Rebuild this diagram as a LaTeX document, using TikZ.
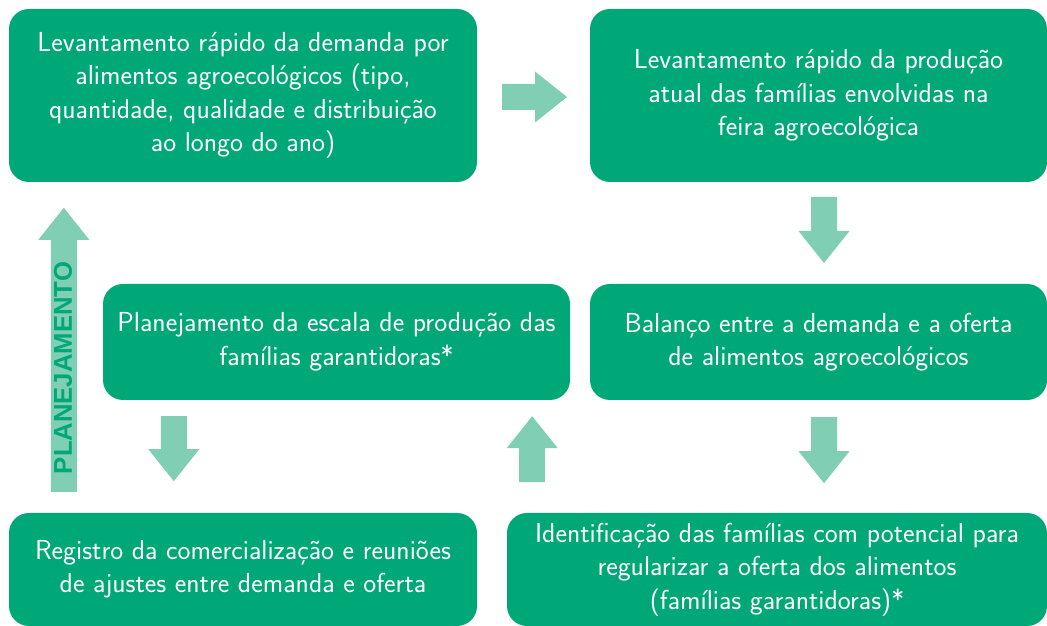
\documentclass[tikz,border=0pt]{standalone}
\usepackage{fontspec}
\usepackage{tikz}
\usetikzlibrary{calc}
\usepackage{xcolor}
\newfontfamily\rotulofont{Liberation Sans}
\definecolor{verdecaixa}{RGB}{0,168,119}
\definecolor{verdeseta}{RGB}{128,207,180}
\newcommand{\seta}[3]{\fill[verdeseta,shift={(#1)},rotate=#2] (-#3/2,-13) -- (#3/2-32,-13) -- (#3/2-32,-25.5) -- (#3/2,0) -- (#3/2-32,25.5) -- (#3/2-32,13) -- (-#3/2,13) -- cycle;}
\tikzset{caixa/.style={fill=verdecaixa,text=white,rounded corners=20pt,align=center,inner sep=0pt,font=\sffamily\fontsize{27.5}{33.5}\selectfont}}

\begin{document}
\begin{tikzpicture}[x=1pt,y=1pt]
	\useasboundingbox (0,0) rectangle (1047,626);
	
	\node[caixa,minimum width=468,minimum height=173] (A) at (243,530.5) {Levantamento rápido da demanda por\\alimentos agroecológicos (tipo,\\quantidade, qualidade e distribuição\\ao longo do ano)};
	\node[caixa,minimum width=457,minimum height=173] (B) at (818.5,530.5) {Levantamento rápido da produção\\atual das famílias envolvidas na\\feira agroecológica};
	\node[caixa,minimum width=457,minimum height=116] (C) at (818.5,284) {Balanço entre a demanda e a oferta\\de alimentos agroecológicos};
	\node[caixa,minimum width=467,minimum height=116] (D) at (336.5,284) {Planejamento da escala de produção das\\famílias garantidoras*};
	\node[caixa,minimum width=468,minimum height=113] (E) at (243,56.5) {Registro da comercialização e reuniões\\de ajustes entre demanda e oferta};
	\node[caixa,minimum width=540,minimum height=113] (F) at (777,56.5) {Identificação das famílias com potencial para\\regularizar a oferta dos alimentos\\(famílias garantidoras)*};
	
	\coordinate (ab) at ($(A.east)!0.5!(B.west)+(1,-1.5)$);
	\coordinate (bc) at ($(B.south)!0.5!(C.north)+(5.5,3)$);
	\coordinate (cf) at ($(C.south)+(5.5,-50)$);
	\coordinate (fd) at ($(D.south east)+(-38,-49)$);
	\coordinate (de) at ($(D.south west)+(71,-48.5)$);
	\coordinate (ea) at ($(E.north west)+(55,163)$);
	
	\seta{ab}{0}{65}
	\seta{bc}{-90}{66}
	\seta{cf}{-90}{66}
	\seta{fd}{90}{66}
	\seta{de}{-90}{65}
	\seta{ea}{90}{284}
	
	\node[rotate=90,text=verdecaixa,inner sep=0pt,font=\rotulofont\bfseries\fontsize{25.7}{26}\selectfont] (plan) at (63,258) {PLANEJAMENTO};
\end{tikzpicture}
\end{document}
